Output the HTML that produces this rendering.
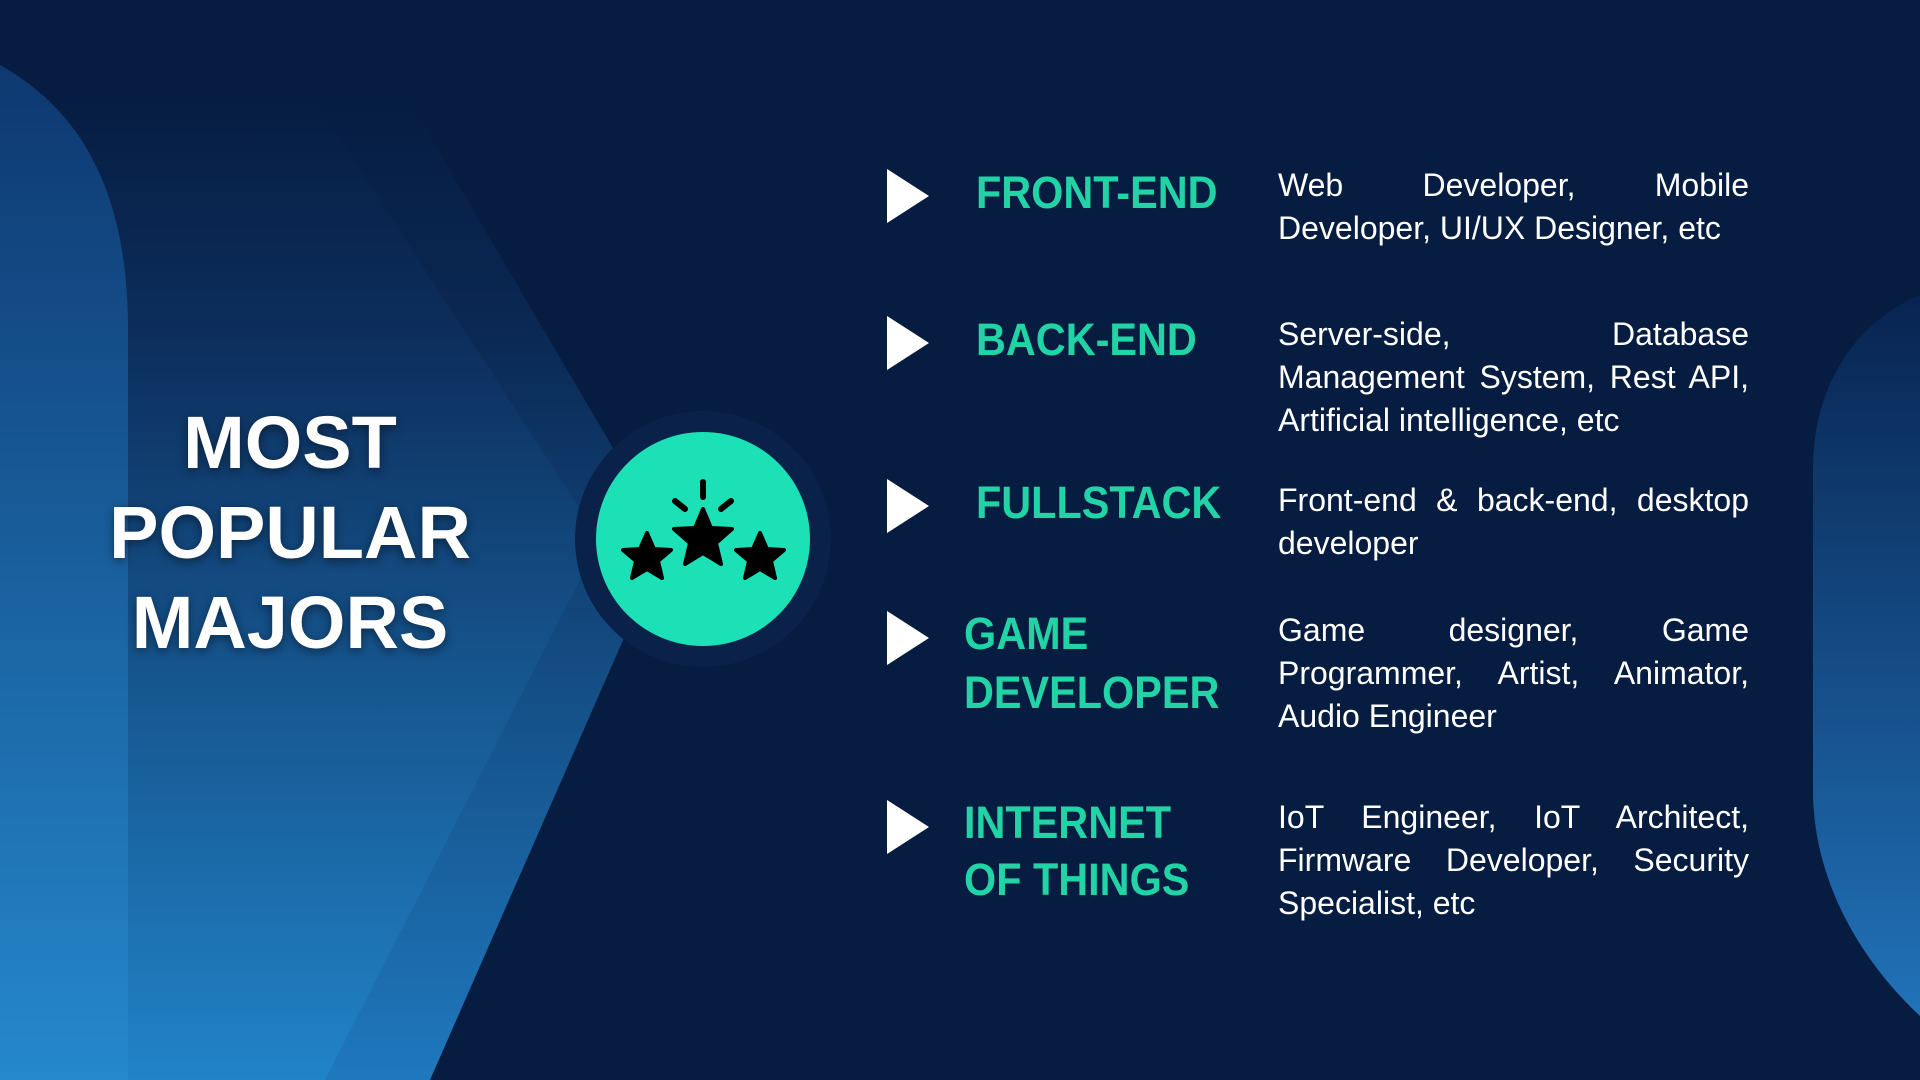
<!DOCTYPE html>
<html><head><meta charset="utf-8"><style>
html,body{margin:0;padding:0}
body{width:1920px;height:1080px;position:relative;overflow:hidden;background:#061c41;font-family:"Liberation Sans",sans-serif}
svg.bg{position:absolute;left:0;top:0}
.t{position:absolute;left:0;width:580px;text-align:center;color:#fff;font-weight:bold;font-size:74px;line-height:90px;text-shadow:0 3px 10px rgba(0,0,0,.45)}
.lab{position:absolute;color:#22d3a6;font-weight:bold;font-size:45px;line-height:58px;white-space:nowrap;transform:scaleX(0.92);transform-origin:0 0}
.d{position:absolute;left:1278px;width:471px;color:#fff;font-size:32px;line-height:43px}
.d div{white-space:nowrap;height:43px}
.d .j{text-align:justify;text-align-last:justify;white-space:normal}
.tri{position:absolute;left:887px;width:0;height:0;border-top:27px solid transparent;border-bottom:27px solid transparent;border-left:42px solid #fff}
</style></head><body>
<svg class="bg" width="1920" height="1080" viewBox="0 0 1920 1080">
<defs>
<linearGradient id="g1" x1="0" y1="0" x2="0" y2="1"><stop offset="0.08" stop-color="#061c41"/><stop offset="0.3" stop-color="#0a2853"/><stop offset="1" stop-color="#1f78bd"/></linearGradient>
<linearGradient id="g2" x1="0" y1="0" x2="0" y2="1"><stop offset="0.08" stop-color="#061c41"/><stop offset="0.3" stop-color="#0c2d5b"/><stop offset="1" stop-color="#2183c8"/></linearGradient>
<linearGradient id="g3" x1="0" y1="0" x2="0" y2="1"><stop offset="0" stop-color="#0e3870"/><stop offset="1" stop-color="#2588cc"/></linearGradient>
<linearGradient id="g4" x1="0" y1="0" x2="0" y2="1"><stop offset="0" stop-color="#082451"/><stop offset="1" stop-color="#2172b8"/></linearGradient>
</defs>
<polygon points="0,0 350,0 667,540 430,1080 0,1080" fill="url(#g1)"/>
<polygon points="0,0 250,0 600,540 325,1080 0,1080" fill="url(#g2)"/>
<path d="M0,65 C80,110 128,190 128,330 L128,1080 L0,1080 Z" fill="url(#g3)"/>
<path d="M1920,295 C1860,320 1813,380 1813,470 L1813,790 C1813,880 1860,960 1920,1016 Z" fill="url(#g4)"/>
<circle cx="703" cy="539" r="128" fill="#0a2249"/>
<circle cx="703" cy="539" r="107" fill="#1ce1b6"/>
<g fill="#000" stroke="#000" stroke-linejoin="round" stroke-width="4">
<polygon points="703,509 711,528 732,529 716,543 721,564 703,553 685,564 690,543 674,529 695,528"/>
<polygon points="647,533 654,549 671,550 658,561 662,578 647,569 632,578 636,561 623,550 640,549"/>
<polygon points="760,533 767,549 784,550 771,561 775,578 760,569 745,578 749,561 736,550 753,549"/>
</g>
<g stroke="#000" stroke-width="6" stroke-linecap="round">
<line x1="703" y1="482" x2="703" y2="497"/>
<line x1="675" y1="501" x2="685" y2="509"/>
<line x1="731" y1="501" x2="721" y2="509"/>
</g>
</svg>
<div class="t" style="top:398px">MOST<br>POPULAR<br>MAJORS</div>

<div class="tri" style="top:169px"></div>
<div class="tri" style="top:316px"></div>
<div class="tri" style="top:479px"></div>
<div class="tri" style="top:611px"></div>
<div class="tri" style="top:800px"></div>

<div class="lab" style="left:976px;top:164px">FRONT-END</div>
<div class="lab" style="left:976px;top:311px">BACK-END</div>
<div class="lab" style="left:976px;top:474px">FULLSTACK</div>
<div class="lab" style="left:964px;top:605px">GAME</div>
<div class="lab" style="left:964px;top:664px">DEVELOPER</div>
<div class="lab" style="left:964px;top:794px">INTERNET</div>
<div class="lab" style="left:964px;top:851px">OF THINGS</div>

<div class="d" style="top:164px"><div class="j">Web Developer, Mobile</div><div>Developer, UI/UX Designer, etc</div></div>
<div class="d" style="top:313px"><div class="j">Server-side, Database</div><div class="j">Management System, Rest API,</div><div>Artificial intelligence, etc</div></div>
<div class="d" style="top:479px"><div class="j">Front-end &amp; back-end, desktop</div><div>developer</div></div>
<div class="d" style="top:609px"><div class="j">Game designer, Game</div><div class="j">Programmer, Artist, Animator,</div><div>Audio Engineer</div></div>
<div class="d" style="top:796px"><div class="j">IoT Engineer, IoT Architect,</div><div class="j">Firmware Developer, Security</div><div>Specialist, etc</div></div>
</body></html>
